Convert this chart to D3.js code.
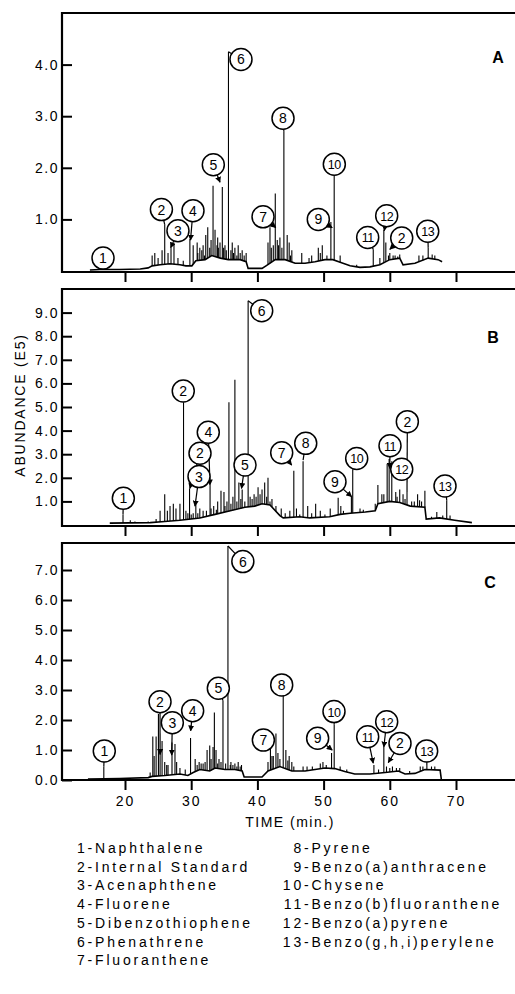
<!DOCTYPE html>
<html>
<head>
<meta charset="utf-8">
<script src="https://cdn.jsdelivr.net/npm/d3@7"></script>
<style>
  body { margin: 0; background: #fff; }
  svg { display: block; }
</style>
</head>
<body>
<svg id="chart"></svg>
<script>
// ticks of the time axis (min.)
const timeTicks = [20, 30, 40, 50, 60, 70];

// y ticks, abundance in E5
const yTicksA = [1, 2, 3, 4];
const yTicksB = [1, 2, 3, 4, 5, 6, 7, 8, 9];
const yTicksC = [0, 1, 2, 3, 4, 5, 6, 7];

// baseline of each trace: [time, abundance]
const baselineA = [[14.7,0.02],[16.2,0.03],[19.2,0.03],[22.3,0.04],[23.5,0.06],[24.1,0.1],[25.3,0.12],[26.8,0.14],[28.3,0.12],[29.2,0.1],[30.1,0.1],[30.7,0.2],[32.1,0.22],[33.1,0.3],[34.4,0.25],[35.6,0.22],[37.4,0.22],[38.3,0.18],[38.6,0.05],[40.7,0.05],[41.3,0.1],[42.7,0.22],[44.2,0.22],[45.7,0.15],[47.2,0.15],[48.7,0.18],[50.2,0.22],[51.4,0.22],[52.5,0.17],[54.0,0.1],[55.5,0.07],[57.0,0.08],[58.5,0.12],[60.0,0.22],[61.5,0.25],[62.0,0.12],[63.8,0.15],[65.8,0.25],[67.3,0.22],[67.9,0.18]];
const baselineB = [[17.7,0.08],[23.8,0.1],[26.0,0.15],[28.3,0.2],[31.3,0.3],[33.6,0.45],[35.9,0.6],[38.1,0.75],[39.6,0.8],[40.7,0.9],[41.9,0.85],[43.4,0.4],[43.9,0.3],[46.4,0.35],[47.9,0.3],[50.9,0.35],[52.5,0.45],[54.0,0.5],[56.3,0.55],[57.8,0.6],[58.2,0.9],[60.0,1.0],[61.5,0.95],[63.1,0.8],[65.3,0.75],[65.5,0.25],[67.5,0.3],[69.8,0.2],[72.4,0.1]];
const baselineC = [[14.4,0.03],[19.2,0.05],[23.5,0.08],[24.1,0.12],[26.0,0.15],[28.3,0.2],[29.5,0.15],[30.3,0.25],[31.3,0.35],[32.8,0.3],[33.6,0.4],[35.1,0.35],[36.6,0.35],[37.7,0.3],[38.0,0.1],[40.7,0.1],[41.6,0.3],[43.4,0.45],[45.2,0.3],[47.2,0.3],[48.7,0.35],[50.2,0.4],[51.7,0.38],[53.2,0.28],[54.7,0.2],[57.0,0.2],[59.3,0.25],[61.3,0.3],[62.3,0.2],[63.8,0.22],[65.3,0.35],[67.6,0.33],[67.8,0.0]];

// peaks: [time, top abundance]
const peaksA = [[16.8,0.08],[24.1,0.3],[24.5,0.35],[25.0,0.25],[25.6,0.4],[26.0,0.9],[26.5,0.35],[26.95,0.45],[27.4,0.55],[28.0,0.25],[28.8,0.2],[29.8,0.62],[30.3,0.5],[30.9,0.55],[31.0,0.35],[31.3,0.45],[31.6,0.4],[31.8,0.5],[32.0,0.3],[32.2,0.7],[32.5,0.85],[32.8,0.45],[33.0,0.6],[33.3,1.65],[33.6,0.8],[33.9,0.5],[34.0,0.65],[34.1,0.45],[34.35,0.55],[34.7,1.63],[34.9,0.45],[35.1,0.5],[35.3,0.4],[35.63,4.25],[36.0,0.4],[36.2,0.55],[36.4,0.35],[36.6,0.45],[36.9,0.3],[37.1,0.5],[37.4,0.35],[37.7,0.4],[38.0,0.3],[38.3,0.35],[41.6,0.55],[41.9,0.85],[42.1,0.45],[42.4,0.5],[42.7,1.5],[43.0,0.6],[43.2,0.5],[43.4,0.65],[43.7,0.45],[44.0,2.7],[44.5,0.7],[44.8,0.55],[45.0,0.3],[45.2,0.4],[46.7,0.35],[47.8,0.25],[48.2,0.3],[49.2,0.45],[49.5,0.35],[49.8,0.5],[50.5,0.3],[51.1,0.95],[51.6,1.85],[52.5,0.3],[55.0,0.12],[57.5,0.42],[58.5,0.25],[59.1,0.8],[59.4,0.55],[59.8,0.3],[60.0,0.35],[60.5,0.3],[60.8,0.3],[61.2,0.28],[61.5,0.32],[64.4,0.3],[65.0,0.3],[65.8,0.45],[66.4,0.32],[66.8,0.3]];
const peaksB = [[19.7,0.45],[20.8,0.2],[21.5,0.15],[23.5,0.15],[24.7,0.25],[25.3,0.6],[26.0,1.3],[26.4,0.6],[26.8,0.8],[27.3,0.9],[27.7,0.7],[28.3,0.9],[28.84,5.2],[29.2,0.6],[29.5,0.5],[29.75,1.55],[30.0,0.45],[30.3,0.5],[30.7,0.9],[31.0,0.5],[31.3,0.7],[31.8,0.6],[32.3,0.6],[32.85,1.7],[33.0,0.7],[33.4,0.8],[33.8,0.65],[34.0,1.0],[34.5,1.45],[34.95,1.4],[35.1,0.8],[35.4,1.0],[35.7,5.2],[36.0,0.9],[36.3,1.2],[36.6,6.15],[36.9,1.0],[37.2,1.8],[37.5,1.1],[37.7,1.5],[38.1,1.0],[38.6,9.5],[38.9,1.2],[39.2,1.1],[39.5,1.3],[39.8,1.2],[40.1,1.6],[40.4,1.3],[40.7,1.5],[41.1,1.8],[41.4,1.2],[41.6,2.0],[41.9,1.0],[42.2,1.1],[42.8,0.8],[43.6,0.7],[44.2,0.5],[44.9,0.6],[45.5,2.3],[45.9,0.7],[46.4,0.45],[46.9,2.7],[47.6,0.8],[48.2,0.5],[48.8,0.9],[49.5,0.6],[50.2,0.45],[51.0,0.7],[52.2,1.15],[52.6,0.8],[53.0,0.6],[54.2,1.2],[54.4,2.33],[55.5,0.7],[56.0,0.65],[57.8,0.9],[58.2,1.7],[58.8,1.3],[59.1,1.3],[59.6,2.6],[59.9,2.8],[60.3,2.7],[60.9,1.4],[61.1,1.2],[61.5,1.5],[62.0,1.3],[62.3,1.1],[62.6,1.4],[63.3,1.0],[63.7,1.0],[64.2,1.3],[64.5,1.05],[64.8,1.0],[65.3,1.45],[66.3,0.35],[67.1,0.55],[68.0,0.4],[68.6,1.05],[69.1,0.4]];
const peaksC = [[16.8,0.45],[23.8,0.25],[24.2,1.45],[24.4,0.8],[24.7,1.45],[25.05,2.2],[25.3,1.0],[25.6,1.3],[26.0,0.6],[26.3,0.5],[26.5,0.5],[27.1,1.25],[27.55,1.2],[27.8,0.6],[28.3,0.4],[29.1,0.35],[29.9,1.4],[30.6,0.7],[30.9,0.5],[31.2,0.6],[31.5,0.55],[31.8,0.55],[32.1,0.6],[32.4,1.0],[32.8,1.15],[33.0,0.7],[33.3,1.1],[33.5,2.25],[33.75,1.0],[34.0,0.55],[34.2,0.7],[34.5,0.6],[34.8,2.65],[35.2,0.55],[35.55,7.8],[35.9,0.5],[36.0,0.6],[36.3,0.5],[36.6,0.55],[36.9,0.45],[37.1,0.6],[37.4,0.45],[37.6,0.5],[41.6,0.6],[41.97,1.1],[42.2,0.8],[42.4,0.8],[42.8,1.55],[43.1,0.9],[43.4,0.7],[43.9,2.85],[44.3,1.0],[44.6,0.65],[44.8,0.8],[45.2,0.6],[45.5,0.45],[46.9,0.45],[47.5,0.45],[48.3,0.45],[49.5,0.55],[49.9,0.6],[50.4,0.5],[51.2,0.9],[51.6,1.85],[52.5,0.45],[53.5,0.35],[57.6,0.5],[58.3,0.35],[59.1,1.1],[59.5,0.45],[60.0,0.4],[60.4,0.45],[61.0,0.4],[61.5,0.4],[63.0,0.3],[64.6,0.45],[65.0,0.45],[65.6,0.5],[66.3,0.45],[66.8,0.45]];

// numbered callouts: [number, circle time, circle abundance, target time, target abundance, arrow]
const labelsA = [["1",16.68,0.25,16.8,0.08,0],["2",25.5,1.19,26.0,0.9,0],["3",28.0,0.78,26.9,0.45,1],["4",30.27,1.17,29.9,0.6,1],["5",33.34,2.06,34.35,1.72,1],["6",37.52,4.1,35.63,4.25,0],["7",40.85,1.05,42.77,0.84,1],["8",43.87,2.96,44.0,2.7,0],["9",49.2,1.0,51.3,0.84,1],["10",51.62,2.07,51.6,1.85,0],["11",56.66,0.65,57.5,0.42,0],["12",59.53,1.07,59.17,0.78,1],["2",61.8,0.64,60.0,0.42,1],["13",65.73,0.77,65.8,0.45,0]];
const labelsB = [["1",19.75,1.13,19.7,0.45,0],["2",28.8,5.68,28.84,5.2,0],["2",31.33,3.04,29.8,1.55,1],["3",31.18,2.05,30.57,0.8,1],["4",32.58,3.93,32.84,1.7,1],["5",38.13,2.54,37.6,1.55,1],["6",40.65,9.08,38.6,9.5,0],["7",43.67,3.06,45.18,2.54,1],["8",47.3,3.46,46.9,2.75,0],["9",51.72,1.83,54.24,1.2,1],["10",55.0,2.82,54.4,2.33,0],["2",62.65,4.38,62.6,1.4,0],["11",60.03,3.36,60.0,2.4,1],["12",61.8,2.36,60.3,2.2,1],["13",68.34,1.65,68.6,1.05,0]];
const labelsC = [["1",16.87,0.97,16.8,0.45,0],["2",25.29,2.61,25.3,0.85,1],["3",27.15,1.91,27.05,0.83,1],["4",30.22,2.31,29.92,1.64,1],["5",34.1,3.06,34.8,2.65,0],["6",37.8,7.28,35.55,7.8,0],["7",40.9,1.33,42.5,1.2,1],["8",43.67,3.17,43.9,2.85,0],["9",49.1,1.39,51.3,1.0,1],["10",51.57,2.28,51.6,1.85,0],["11",56.66,1.44,57.5,0.56,1],["12",59.53,1.94,59.1,1.1,1],["2",61.54,1.22,59.77,0.58,1],["13",65.57,0.97,65.6,0.5,0]];

// compound key
const keyLeft = ["1-Naphthalene", "2-Internal Standard", "3-Acenaphthene", "4-Fluorene", "5-Dibenzothiophene", "6-Phenathrene", "7-Fluoranthene"];
const keyRight = ["8-Pyrene", "9-Benzo(a)anthracene", "10-Chysene", "11-Benzo(b)fluoranthene", "12-Benzo(a)pyrene", "13-Benzo(g,h,i)perylene"];

const width = 515;
const height = 994;
const font = "'Liberation Sans', Arial, Helvetica, sans-serif";
const left = 62;
const right = 530;
const r = 11;

const panels = [
  { id: "A", top: 13, zero: 271, axis: 272, vmax: 5, yTicks: yTicksA, baseline: baselineA, peaks: peaksA, labels: labelsA, letter: [498, 63] },
  { id: "B", top: 289, zero: 525, axis: 526, vmax: 10, yTicks: yTicksB, baseline: baselineB, peaks: peaksB, labels: labelsB, letter: [493, 343] },
  { id: "C", top: 543, zero: 780, axis: 780, vmax: 7.9, yTicks: yTicksC, baseline: baselineC, peaks: peaksC, labels: labelsC, letter: [490, 588] }
];

const x = d3.scaleLinear().domain([20, 70]).range([125, 456]);

const svg = d3.select("#chart")
  .attr("width", width)
  .attr("height", height)
  .style("font-family", font);

svg.append("defs").append("marker")
  .attr("id", "arr")
  .attr("viewBox", "0 0 10 10")
  .attr("refX", 9).attr("refY", 5)
  .attr("markerWidth", 5).attr("markerHeight", 5)
  .attr("orient", "auto")
  .append("path").attr("d", "M0,0L10,5L0,10z").attr("fill", "#000");

// baseline value under a peak
function baseAt(base, t) {
  const i = d3.bisector(d => d[0]).right(base, t);
  if (i <= 0) return base[0][1];
  if (i >= base.length) return base[base.length - 1][1];
  const a = base[i - 1], b = base[i];
  return a[1] + (b[1] - a[1]) * (t - a[0]) / (b[0] - a[0]);
}

panels.forEach((p, k) => {
  const y = d3.scaleLinear().domain([0, p.vmax]).range([p.zero, p.top]);
  const g = svg.append("g");

  g.append("clipPath").attr("id", "clip" + p.id)
    .append("rect").attr("x", left).attr("y", p.top).attr("width", right - left).attr("height", p.axis - p.top);

  // trace
  const plot = g.append("g").attr("clip-path", `url(#clip${p.id})`);
  plot.append("path")
    .datum(p.baseline)
    .attr("d", d3.line().x(d => x(d[0])).y(d => y(d[1])))
    .attr("fill", "none")
    .attr("stroke", "#000")
    .attr("stroke-width", 1.6);

  plot.selectAll("line.peak")
    .data(p.peaks)
    .join("line")
    .attr("class", "peak")
    .attr("x1", d => x(d[0])).attr("x2", d => x(d[0]))
    .attr("y1", d => y(baseAt(p.baseline, d[0])))
    .attr("y2", d => y(d[1]))
    .attr("stroke", "#000")
    .attr("stroke-width", 1.1);

  // frame
  g.append("path")
    .attr("d", `M${right},${p.top}H${left}V${p.axis}H${right}`)
    .attr("fill", "none")
    .attr("stroke", "#000")
    .attr("stroke-width", 2.2);

  // y axis, ticks point inward
  const ya = g.append("g")
    .attr("transform", `translate(${left},0)`)
    .call(d3.axisLeft(y).tickValues(p.yTicks).tickSize(-10).tickPadding(3).tickFormat(d3.format(".1f")))
    .attr("font-family", font)
    .attr("font-size", 14);
  ya.select(".domain").remove();
  ya.selectAll("line").attr("stroke-width", 2);
  ya.selectAll("text").style("letter-spacing", "1.5px").attr("fill", "#000");

  // x axis, labels only under the last panel
  const last = k === panels.length - 1;
  const xa = g.append("g")
    .attr("transform", `translate(0,${p.axis})`)
    .call(d3.axisBottom(x).tickValues(timeTicks).tickSize(10).tickPadding(6).tickFormat(last ? d3.format("d") : ""))
    .attr("font-family", font)
    .attr("font-size", 14);
  xa.select(".domain").remove();
  xa.selectAll("line").attr("stroke-width", 2);
  xa.selectAll("text").style("letter-spacing", "2px").attr("fill", "#000");

  // callouts
  const lab = g.append("g");
  p.labels.forEach(d => {
    const cx = x(d[1]), cy = y(d[2]);
    const tx = x(d[3]), ty = y(d[4]);
    const dx = tx - cx, dy = ty - cy;
    const len = Math.hypot(dx, dy);
    if (len > r + 1) {
      lab.append("line")
        .attr("x1", cx + dx / len * r).attr("y1", cy + dy / len * r)
        .attr("x2", tx).attr("y2", ty)
        .attr("stroke", "#000")
        .attr("stroke-width", 1.2)
        .attr("marker-end", d[5] ? "url(#arr)" : null);
    }
  });
  p.labels.forEach(d => {
    const cx = x(d[1]), cy = y(d[2]);
    lab.append("circle")
      .attr("cx", cx).attr("cy", cy).attr("r", r)
      .attr("fill", "#fff")
      .attr("stroke", "#000")
      .attr("stroke-width", 1.5);
    lab.append("text")
      .attr("x", cx).attr("y", cy + 5)
      .attr("text-anchor", "middle")
      .attr("fill", "#000")
      .attr("font-size", d[0].length > 1 ? 12.5 : 14)
      .style("letter-spacing", d[0].length > 1 ? "-0.5px" : "0px")
      .text(d[0]);
  });

  // panel letter
  g.append("text")
    .attr("x", p.letter[0]).attr("y", p.letter[1])
    .attr("text-anchor", "middle")
    .attr("font-size", 16)
    .attr("font-weight", "bold")
    .text(p.id);
});

// axis titles
svg.append("text")
  .attr("transform", "translate(25,405) rotate(-90)")
  .attr("text-anchor", "middle")
  .attr("font-size", 14)
  .style("letter-spacing", "1.8px")
  .text("ABUNDANCE (E5)");

svg.append("text")
  .attr("x", 290).attr("y", 827)
  .attr("text-anchor", "middle")
  .attr("font-size", 14)
  .style("letter-spacing", "1.5px")
  .text("TIME (min.)");

// key
const rowY = i => 853 + i * 18.7;
svg.append("g").selectAll("text")
  .data(keyLeft)
  .join("text")
  .attr("x", 77)
  .attr("y", (d, i) => rowY(i))
  .attr("font-size", 14)
  .style("letter-spacing", "2.8px")
  .text(d => d);

const keyR = svg.append("g");
keyRight.forEach((d, i) => {
  const num = d.split("-")[0];
  const tmp = keyR.append("text").attr("font-size", 14).style("letter-spacing", "2.8px").text(num);
  const w = tmp.node().getComputedTextLength();
  tmp.remove();
  keyR.append("text")
    .attr("x", 304 - w)
    .attr("y", rowY(i))
    .attr("font-size", 14)
    .style("letter-spacing", "2.8px")
    .text(d);
});
</script>
</body>
</html>
